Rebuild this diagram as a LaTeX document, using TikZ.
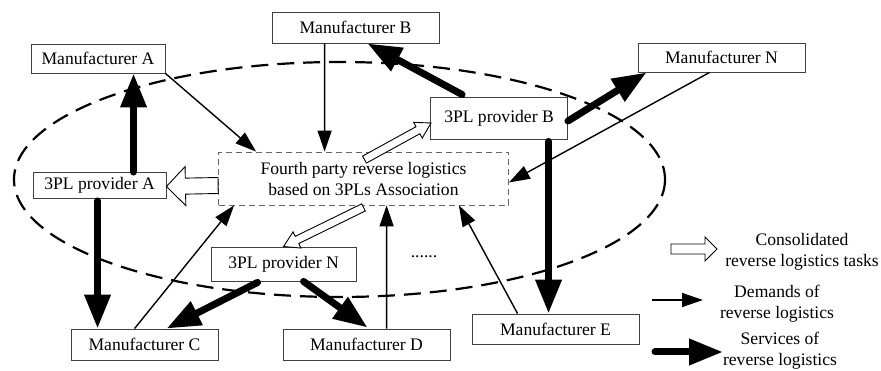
\documentclass[tikz,border=0pt]{standalone}
\usepackage{fontspec}
\setmainfont{Liberation Serif}
\usetikzlibrary{arrows.meta,calc}
\newcommand\fs{\fontsize{17.6}{21}\selectfont}
\newcommand\hollowarrow[5]{%
  \coordinate (ha) at #1;
  \coordinate (hb) at #2;
  \coordinate (hh) at ($(hb)!#5!(ha)$);
  \draw[hollow] ($(ha)!#3!90:(hb)$) -- ($(hh)!#3!90:(hb)$) -- ($(hh)!#4!90:(hb)$) -- (hb)
     -- ($(hh)!#4!-90:(hb)$) -- ($(hh)!#3!-90:(hb)$) -- ($(ha)!#3!-90:(hb)$) -- cycle;}
\begin{document}
\begin{tikzpicture}[x=1pt,y=-1pt,
  box/.style={draw=black!75, line width=0.9pt, fill=white, inner sep=0pt, font=\fs},
  lbl/.style={inner sep=0pt, font=\fs, align=center},
  thinarr/.style={line width=1.4pt, -{Triangle[length=21pt,width=14pt]}},
  thickarr/.style={line width=7pt, line cap=round, -{Triangle[length=34pt,width=25pt]}},
  hollow/.style={draw=black, line width=0.9pt, fill=white, line join=miter}]
\useasboundingbox (0,0) rectangle (881,371);
\clip (0,0) rectangle (881,371);
% association ellipse
\draw[line width=2.2pt, dash pattern=on 17pt off 9pt] (339.5,179.5) ellipse [x radius=325.5, y radius=117.5];
% boxes
\node[box, minimum width=134pt, minimum height=29pt] (mA) at (98,58.5) {Manufacturer A};
\node[box, minimum width=167pt, minimum height=31pt] (mB) at (355.5,27.5) {Manufacturer B};
\node[box, minimum width=167pt, minimum height=29pt] (mN) at (721.5,57.5) {Manufacturer N};
\node[box, minimum width=137pt, minimum height=42pt] (pB) at (499,118) {3PL provider B};
\node[box, draw=black!60, line width=0.8pt, dash pattern=on 6pt off 4pt, minimum width=290pt, minimum height=53pt, align=center] (fpl) at (363.5,178.5) {Fourth party reverse logistics\\based on 3PLs Association};
\node[box, minimum width=133pt, minimum height=26pt] (pA) at (99.5,185.5) {3PL provider A};
\node[box, minimum width=145pt, minimum height=34pt] (pN) at (283.5,264) {3PL provider N};
\node[box, minimum width=147pt, minimum height=31pt] (mC) at (144.5,344.5) {Manufacturer C};
\node[box, minimum width=167pt, minimum height=31pt] (mD) at (366.5,344.5) {Manufacturer D};
\node[box, minimum width=167pt, minimum height=30pt] (mE) at (555.5,329) {Manufacturer E};
\node[lbl] (dots) at (424,257) {......};
% demands (thin)
\draw[thinarr] (mA.south east) -- ($(fpl.north west)+(38,0)$);
\draw[thinarr] ($(mB.south west)+(53,0)$) -- ($(fpl.north west)+(106.5,0)$);
\draw[thinarr] ($(mN.south west)+(72,0)$) -- ($(fpl.east)+(0,4)$);
\draw[thinarr] ($(mC.north west)+(64,0)$) -- ($(fpl.south west)+(16,0)$);
\draw[thinarr] ($(mD.north west)+(104,0)$) -- ($(fpl.south west)+(168.5,0)$);
\draw[thinarr] ($(mE.north west)+(46,0)$) -- ($(fpl.south east)+(-50,0)$);
% services (thick)
\draw[thickarr] ($(pA.north west)+(101,0)$) -- ($(mA.south west)+(103,0)$);
\draw[thickarr] ($(pA.south west)+(65,2)$) -- ($(mC.north west)+(27,0)$);
\draw[thickarr] ($(pB.north west)+(32,-2)$) -- ($(mB.south west)+(96,0)$);
\draw[thickarr] ($(pB.east)+(0,3)$) -- ($(mN.south west)+(9,0)$);
\draw[thickarr] ($(pB.south west)+(118.5,2)$) -- ($(mE.north west)+(77,0)$);
\draw[thickarr] ($(pN.south west)+(47,1)$) -- ($(mC.north west)+(96,0)$);
\draw[thickarr] ($(pN.south west)+(93,0)$) -- ($(mD.north west)+(85,-1)$);
% consolidated tasks (hollow)
\hollowarrow{(pA.east -| fpl.west)}{($(pA.east)+(0,1)$)}{8pt}{19.5pt}{19pt}
\hollowarrow{($(fpl.north)+(1,8)$)}{($(pB.west)+(1,5)$)}{4pt}{9pt}{15pt}
\hollowarrow{($(fpl.south)+(0,2)$)}{($(pN.north west)+(73,0)$)}{4pt}{9pt}{15pt}
% legend
\coordinate (l1a) at (671,249); \coordinate (l1b) at (717,249);
\hollowarrow{(l1a)}{(l1b)}{5pt}{12pt}{12pt}
\node[lbl] (t1) at (802,252) {Consolidated\\reverse logistics tasks};
\coordinate (l2a) at (652,300); \coordinate (l2b) at (703,300);
\draw[thinarr] (l2a) -- (l2b);
\node[lbl] (t2) at (777,304) {Demands of\\reverse logistics};
\coordinate (l3a) at (655,352); \coordinate (l3b) at (723,352);
\draw[thickarr] (l3a) -- (l3b);
\node[lbl] (t3) at (780,351) {Services of\\reverse logistics};
\end{tikzpicture}
\end{document}
